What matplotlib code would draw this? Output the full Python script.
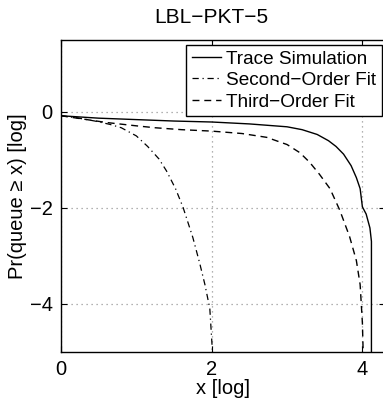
import numpy as np
import matplotlib
matplotlib.use("Agg")
import matplotlib.pyplot as plt

plt.rcParams['font.family'] = ['Liberation Sans', 'DejaVu Sans']

# values (log-log axes already in log units)
trace_x = [0, 0.5, 1.0, 1.5, 2.0, 2.5, 3.0, 3.2, 3.4, 3.55, 3.65, 3.75, 3.85,
           3.92, 3.97, 4.0, 4.05, 4.1, 4.12, 4.12]
trace_y = [-0.08, -0.13, -0.16, -0.19, -0.21, -0.25, -0.31, -0.37, -0.47, -0.6,
           -0.72, -0.88, -1.12, -1.37, -1.6, -1.98, -2.13, -2.42, -2.7, -5.0]

second_x = [0, 0.2, 0.45, 0.65, 0.8, 1.0, 1.15, 1.3, 1.4, 1.52, 1.62, 1.75,
            1.84, 1.91, 1.975, 2.01]
second_y = [-0.08, -0.12, -0.19, -0.26, -0.33, -0.5, -0.72, -0.98, -1.23, -1.6,
            -1.99, -2.62, -3.15, -3.6, -4.1, -5.0]

third_x = [0, 0.3, 0.6, 1.0, 1.25, 1.6, 2.0, 2.4, 2.73, 3.0, 3.17, 3.3, 3.43,
           3.57, 3.7, 3.83, 3.92, 3.97, 4.0, 4.01]
third_y = [-0.08, -0.15, -0.22, -0.29, -0.33, -0.37, -0.40, -0.45, -0.53, -0.68,
           -0.85, -1.05, -1.3, -1.6, -2.05, -2.6, -3.1, -3.6, -4.4, -5.0]

labels = ["Trace Simulation", "Second\u2212Order Fit", "Third\u2212Order Fit"]
xticks = [0, 2, 4]
yticks = [0, -2, -4]

fig = plt.figure(figsize=(3.83, 3.98), dpi=100)
ax = fig.add_axes([61/383, 46.3/398, 324/383, 311.7/398])

ax.plot(trace_x, trace_y, 'k-', lw=1.0, label=labels[0])
ax.plot(second_x, second_y, 'k-.', lw=0.9, dashes=(5, 3, 1, 3), label=labels[1])
ax.plot(third_x, third_y, 'k--', lw=1.0, dashes=(5, 3.5), label=labels[2])

ax.set_xlim(0, 4.3)
ax.set_ylim(-5, 1.5)
ax.set_xticks(xticks)
ax.set_yticks(yticks)
ax.set_xticklabels([str(t).replace('-', '\u2212') for t in xticks])
ax.set_yticklabels([str(t).replace('-', '\u2212') for t in yticks])
ax.tick_params(direction='in', length=4, width=0.8, labelsize=14.5,
               top=True, right=True, pad=6)
ax.grid(True, linestyle=(0, (1, 3)), color='#999999', lw=0.9)
for s in ax.spines.values():
    s.set_linewidth(1.0)

ax.set_title("LBL\u2212PKT\u22125", fontsize=15, pad=12, x=(211 - 61) / 324)
ax.set_xlabel("x [log]", fontsize=14.5, labelpad=0)
ax.set_ylabel("Pr(queue \u2265 x) [log]", fontsize=14.5, labelpad=2)

leg = ax.legend(loc='upper right', bbox_to_anchor=(381.5/383, 1 - 44.5/398),
                bbox_transform=fig.transFigure, borderaxespad=0,
                fontsize=13.7, frameon=True, fancybox=False, framealpha=1,
                edgecolor='black', handlelength=1.55, handletextpad=0.25,
                labelspacing=0.22, borderpad=0.3)
leg.get_frame().set_linewidth(1.0)

fig.savefig("out.png", dpi=100)
